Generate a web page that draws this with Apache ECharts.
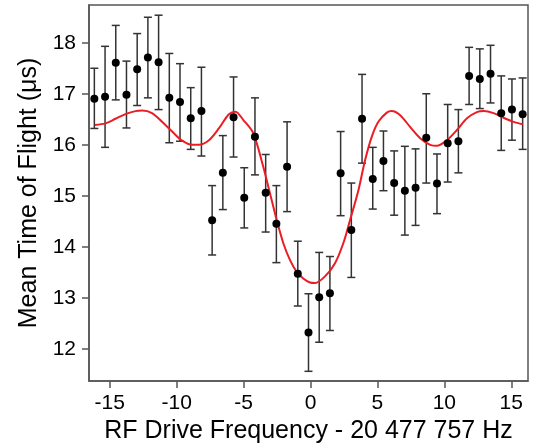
<!DOCTYPE html>
<html>
<head>
<meta charset="utf-8">
<script src="https://cdn.jsdelivr.net/npm/echarts@6/dist/echarts.min.js"></script>
<style>
html,body{margin:0;padding:0;background:#fff;}
#c{width:536px;height:448px;}
</style>
</head>
<body>
<div id="c"></div>
<script>
// Detuning (Hz) relative to 20 477 757 Hz
var freq = [-16.15, -15.35, -14.55, -13.75, -12.95, -12.15, -11.35, -10.55, -9.75, -8.95, -8.15,
  -7.35, -6.55, -5.75, -4.95, -4.15, -3.35, -2.55, -1.75, -0.95, -0.15, 0.65, 1.45, 2.25, 3.05,
  3.85, 4.65, 5.45, 6.25, 7.05, 7.85, 8.65, 9.45, 10.25, 11.05, 11.85, 12.65, 13.45, 14.25, 15.05, 15.85];
// Mean time of flight (us)
var tof = [16.90, 16.94, 17.61, 16.98, 17.48, 17.71, 17.62, 16.92, 16.84, 16.52, 16.66,
  14.52, 15.45, 16.54, 14.96, 16.16, 15.06, 14.45, 15.57, 13.47, 12.32, 13.01, 13.09, 15.44, 14.33,
  16.51, 15.33, 15.68, 15.25, 15.10, 15.16, 16.14, 15.24, 16.03, 16.07, 17.35, 17.29, 17.39, 16.62, 16.69, 16.60];
var tofHigh = [17.50, 17.93, 18.34, 17.64, 18.18, 18.50, 18.54, 17.79, 17.59, 17.12, 17.52,
  15.20, 16.18, 17.33, 15.55, 16.92, 15.81, 15.20, 16.45, 14.11, 13.08, 13.89, 13.81, 16.26, 15.25,
  17.38, 15.95, 16.27, 15.88, 15.97, 15.92, 17.00, 15.82, 16.79, 16.69, 17.91, 17.88, 17.95, 17.35, 17.29, 17.31];
var tofLow = [16.32, 15.95, 16.88, 16.33, 16.77, 16.92, 16.69, 16.04, 16.07, 15.91, 15.78,
  13.84, 14.73, 15.76, 14.37, 15.41, 14.29, 13.69, 14.69, 12.84, 11.56, 12.13, 12.36, 14.61, 13.40,
  15.64, 14.74, 15.10, 14.62, 14.23, 14.42, 15.25, 14.65, 15.27, 15.45, 16.79, 16.71, 16.82, 15.89, 16.09, 15.91];
// Fit curve
var fitX = [-16.12, -15.32, -14.57, -13.83, -13.08, -12.58, -11.84, -11.09, -10.34, -9.59, -8.84, -8.34,
  -7.59, -6.85, -6.10, -5.60, -5.03, -4.28, -3.53, -3.03, -2.53, -2.03, -1.53, -1.03, -0.54, -0.04,
  0.34, 1.08, 1.83, 2.45, 2.96, 3.58, 4.08, 4.58, 5.07, 5.70, 6.06, 6.70, 7.44, 8.19, 8.94, 9.44,
  10.19, 10.94, 11.69, 12.43, 12.93, 13.68, 14.42, 15.17, 15.87];
var fitY = [16.39, 16.42, 16.51, 16.60, 16.66, 16.67, 16.62, 16.45, 16.26, 16.08, 16.00, 16.00,
  16.09, 16.32, 16.60, 16.65, 16.49, 16.23, 15.57, 15.05, 14.53, 14.07, 13.74, 13.51, 13.38, 13.30,
  13.29, 13.42, 13.68, 14.07, 14.53, 15.11, 15.70, 16.16, 16.45, 16.63, 16.66, 16.58, 16.35, 16.13, 16.00, 15.98,
  16.09, 16.29, 16.52, 16.64, 16.66, 16.62, 16.53, 16.45, 16.40];
var xTicks = [-15, -10, -5, 0, 5, 10, 15];
var yTicks = [12, 13, 14, 15, 16, 17, 18];

var pts = freq.map(function (x, i) { return [x, tof[i]]; });
var errs = freq.map(function (x, i) { return [x, tofLow[i], tofHigh[i]]; });
var fit = fitX.map(function (x, i) { return [x, fitY[i]]; });

var axisCol = '#555';
var font = 'Liberation Sans, Arial, Helvetica, sans-serif';

var chart = echarts.init(document.getElementById('c'), null, {renderer: 'canvas'});
chart.setOption({
  animation: false,
  backgroundColor: '#fff',
  grid: {left: 89, right: 8, top: 5, bottom: 67, show: true, borderColor: axisCol, borderWidth: 1.5,
         containLabel: false, outerBoundsMode: 'none'},
  xAxis: {
    type: 'value', min: -16.55, max: 16.25,
    name: 'RF Drive Frequency - 20 477 757 Hz', nameLocation: 'middle', nameGap: 37,
    nameTextStyle: {fontFamily: font, fontSize: 25, color: '#000'},
    axisLine: {show: true, onZero: false, lineStyle: {color: axisCol, width: 1.5}},
    axisTick: {show: true, inside: false, length: 7, lineStyle: {color: axisCol, width: 1.5}, customValues: xTicks},
    axisLabel: {fontFamily: font, fontSize: 21, color: '#000', margin: 12, customValues: xTicks},
    splitLine: {show: false}
  },
  yAxis: {
    type: 'value', min: 11.37, max: 18.74,
    name: 'Mean Time of Flight (μs)', nameLocation: 'middle', nameGap: 46,
    nameTextStyle: {fontFamily: font, fontSize: 25, color: '#000'},
    axisLine: {show: true, onZero: false, lineStyle: {color: axisCol, width: 1.5}},
    axisTick: {show: true, inside: false, length: 7, lineStyle: {color: axisCol, width: 1.5}, customValues: yTicks},
    axisLabel: {fontFamily: font, fontSize: 21, color: '#000', margin: 13, customValues: yTicks},
    splitLine: {show: false}
  },
  series: [
    {
      type: 'custom', name: 'err', data: errs, z: 2,
      renderItem: function (params, api) {
        var x = api.value(0);
        var lo = api.coord([x, api.value(1)]);
        var hi = api.coord([x, api.value(2)]);
        var w = 4;
        var st = {stroke: '#333', lineWidth: 1.5};
        return {type: 'group', children: [
          {type: 'line', shape: {x1: lo[0], y1: lo[1], x2: hi[0], y2: hi[1]}, style: st},
          {type: 'line', shape: {x1: lo[0] - w, y1: lo[1], x2: lo[0] + w, y2: lo[1]}, style: st},
          {type: 'line', shape: {x1: hi[0] - w, y1: hi[1], x2: hi[0] + w, y2: hi[1]}, style: st}
        ]};
      },
      encode: {x: 0, y: [1, 2]}
    },
    {
      type: 'line', name: 'fit', data: fit, smooth: 0.3, showSymbol: false, z: 3,
      lineStyle: {color: '#ec1c24', width: 2}
    },
    {
      type: 'scatter', name: 'data', data: pts, symbol: 'circle', symbolSize: 8, z: 4,
      itemStyle: {color: '#000', opacity: 1}
    }
  ]
});
</script>
</body>
</html>
